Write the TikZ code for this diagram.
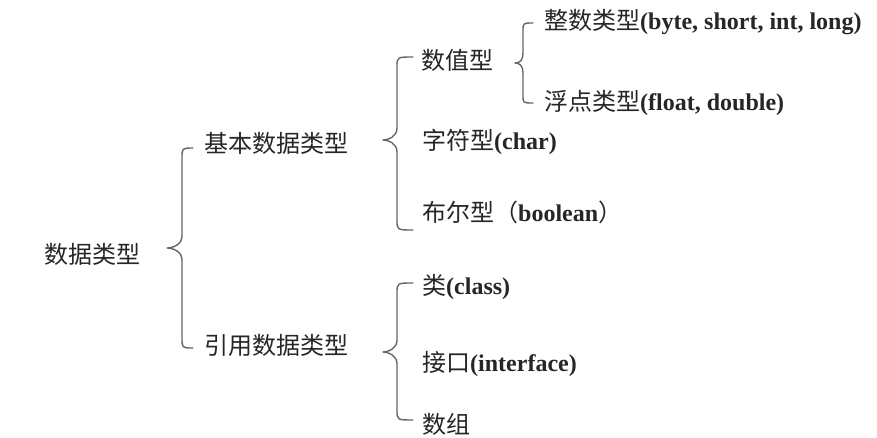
\documentclass[tikz,border=0pt]{standalone}
\usepackage{fontspec}
\setmainfont{Liberation Serif}
\newfontfamily\cjk{Noto Sans CJK SC}
\newcommand\zh[1]{{\cjk\mdseries #1}}
\tikzset{
  lbl/.style={anchor=base west, inner sep=0pt, font=\fontsize{24}{28}\selectfont\bfseries, text=black!85},
  brc/.style={draw=black!60, line width=1.4pt, line cap=round, line join=round},
}
\newcommand\drawbrace[7]{% xe xv xt yt ym yb r
  \draw[brc] (#1,#4) .. controls (#2,#4) .. (#2,#4+#7) -- (#2,#5-#7-2)
    .. controls (#2,#5-3) and (#3+5,#5) .. (#3,#5)
    .. controls (#3+5,#5) and (#2,#5+3) .. (#2,#5+#7+2)
    -- (#2,#6-#7) .. controls (#2,#6) .. (#1,#6);}
\begin{document}
\begin{tikzpicture}[x=1pt,y=-1pt]
\useasboundingbox[fill=white] (0,0) rectangle (877,438);
% texts (baseline = visual centre + 9)
\node[lbl] (root) at (44,263) {\zh{数据类型}};
\node[lbl] (basic) at (204,153) {\zh{基本数据类型}};
\node[lbl] (ref) at (204,354) {\zh{引用数据类型}};
\node[lbl] (num) at (421,70) {\zh{数值型}};
\node[lbl] (chr) at (422,150) {\zh{字符型}(char)};
\node[lbl] (bool) at (422,222) {\zh{布尔型（}boolean\zh{）}};
\node[lbl] (int) at (544,30) {\zh{整数类型}(byte, short, int, long)};
\node[lbl] (flt) at (544,111) {\zh{浮点类型}(float, double)};
\node[lbl] (cls) at (422,294) {\zh{类}(class)};
\node[lbl] (ifc) at (422,371) {\zh{接口}(interface)};
\node[lbl] (arr) at (422,433) {\zh{数组}};
% braces
\drawbrace{193}{182}{167}{148}{248}{348}{10}
\drawbrace{413}{397}{383}{57}{140}{230}{10}
\drawbrace{533}{523}{515}{23}{63}{103}{8}
\drawbrace{413}{397}{383}{283}{352}{420}{10}
\end{tikzpicture}
\end{document}
